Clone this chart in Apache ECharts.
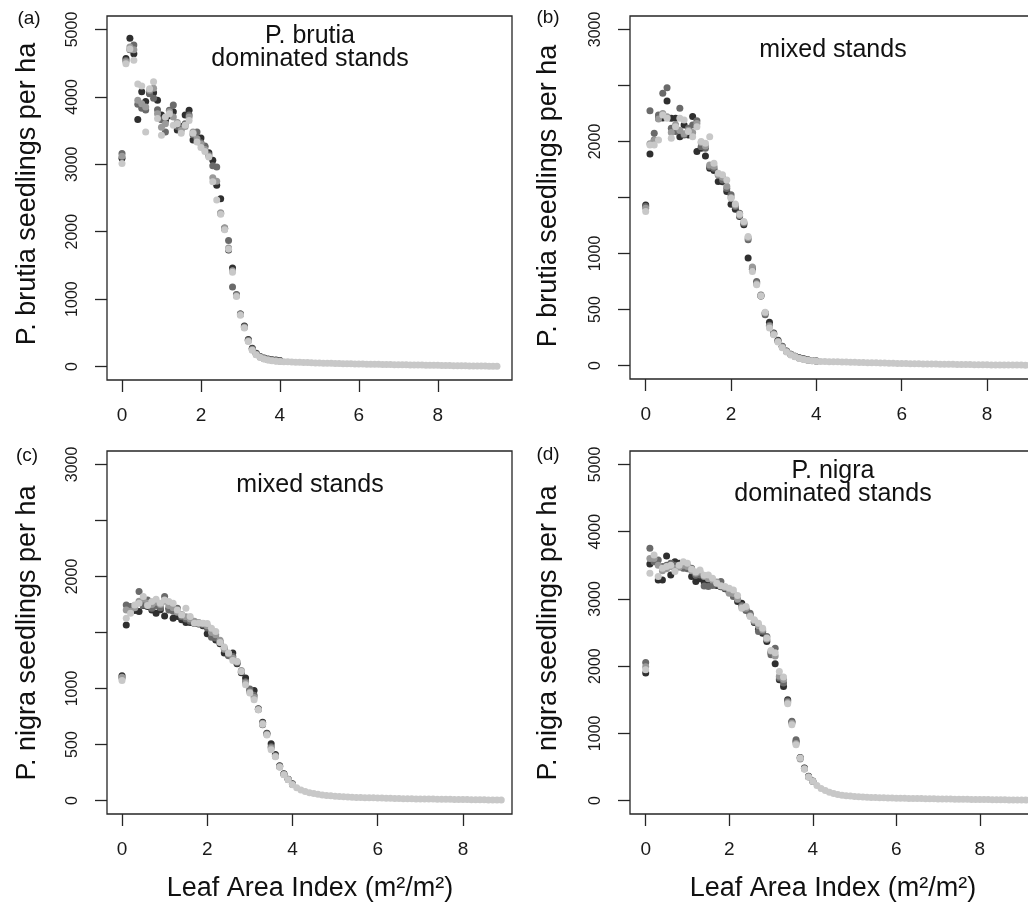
<!DOCTYPE html>
<html>
<head>
<meta charset="utf-8">
<script src="https://cdn.jsdelivr.net/npm/echarts@6/dist/echarts.min.js"></script>
<style>
html,body{margin:0;padding:0;background:#fff;}
#chart{width:1028px;height:908px;}
</style>
</head>
<body>
<div id="chart"></div>
<script>
// ---------- DATA ----------
const xMain = [0,0.1,0.2,0.3,0.4,0.5,0.6,0.7,0.8,0.9,1.0,1.1,1.2,1.3,1.4,1.5,1.6,1.7,1.8,1.9,2.0,2.1,2.2,2.3,2.4,2.5,2.6,2.7,2.8,2.9,3.0,3.1,3.2,3.3,3.4,3.5,3.6,3.7,3.8,3.9,4.0];
const xTail = [4.1,4.2,4.3,4.4,4.5,4.6,4.7,4.8,4.9,5.0,5.1,5.2,5.3,5.4,5.5,5.6,5.7,5.8,5.9,6.0,6.1,6.2,6.3,6.4,6.5,6.6,6.7,6.8,6.9,7.0,7.1,7.2,7.3,7.4,7.5,7.6,7.7,7.8,7.9,8.0,8.1,8.2,8.3,8.4,8.5,8.6,8.7,8.8,8.9,9.0,9.1,9.2,9.3,9.4,9.5];

// (a) P. brutia, P. brutia dominated stands
const a1 = [3090,4570,4870,4640,3665,4075,3930,4050,4060,3950,3730,3650,3720,3780,3510,3560,3730,3800,3360,3400,3390,3260,3170,3060,2690,2490,2050,1730,1460,1060,780,600,400,270,195,150,125,110,100,95,90];
const a2 = [3160,4540,4700,4770,3890,3830,3805,4045,3980,3810,3660,3480,3800,3880,3560,3530,3600,3730,3440,3480,3320,3270,3140,2980,2960,2270,2040,1870,1180,1070,780,590,390,260,190,145,120,105,95,90,85];
const a3 = [3120,4520,4740,4700,3950,3900,3850,4100,4130,3750,3550,3600,3780,3700,3620,3500,3560,3700,3480,3380,3300,3220,3120,2800,2750,2280,2060,1760,1420,1050,770,580,380,250,180,140,115,100,90,85,80];
const a4 = [3010,4490,4710,4545,4190,4160,3480,4120,4225,3680,3430,3700,3750,3580,3600,3460,3580,3650,3460,3330,3250,3190,3110,2740,2470,2260,2030,1740,1400,1040,760,570,370,240,175,135,110,95,85,80,75];
const aTail = [72,70,67,65,62,60,58,56,54,52,50,48,47,45,44,42,41,40,38,37,36,35,34,33,32,31,30,29,28,27,26,25,24,23,22,21,20,19,18,17,16,15,14,13,12,11,10,9,8,8,7,6,5,5,4];

// (b) P. brutia, mixed stands
const b1 = [1434,1889,2014,2207,2210,2361,2207,2207,2043,2147,2058,2222,1910,1940,1871,1760,1740,1642,1640,1553,1440,1396,1331,1256,959,860,740,620,470,386,290,226,172,130,102,84,70,60,52,46,41];
const b2 = [1420,2275,2073,2236,2430,2480,2118,2088,2296,2058,2118,2147,2186,1954,1940,1776,1761,1702,1657,1580,1524,1420,1360,1270,1123,870,751,630,454,360,280,220,168,128,100,82,68,58,50,45,40];
const b3 = [1405,1980,2010,2200,2250,2220,2080,2150,2100,2070,2100,2080,2160,1990,1960,1790,1780,1700,1680,1600,1500,1430,1340,1280,1140,880,730,620,470,350,285,215,165,125,98,80,66,56,48,43,39];
const b4 = [1375,1969,1969,2014,2236,2207,2029,2132,2207,2192,2088,2043,2132,1999,1984,2043,1806,1717,1702,1657,1494,1443,1350,1286,1152,840,722,624,475,336,276,210,160,120,95,78,64,54,47,42,38];
const bTail = [37,36,35,34,33,32,31,30,29,28,27,26,25,24,23,22,21,20,19,18,18,17,16,16,15,14,14,13,12,12,11,11,10,10,9,9,8,8,7,7,6,6,5,5,5,4,4,4,3,3,3,2];

// (c) P. nigra, mixed stands
const c1 = [1114,1568,1720,1696,1687,1740,1731,1700,1672,1702,1648,1717,1628,1642,1613,1589,1590,1580,1575,1560,1488,1470,1434,1400,1316,1300,1316,1220,1140,1093,980,983,820,698,600,508,410,310,240,190,150];
const c2 = [1093,1746,1731,1740,1865,1746,1791,1717,1740,1720,1821,1700,1690,1717,1640,1620,1600,1590,1580,1570,1540,1458,1450,1420,1360,1292,1286,1230,1150,1060,995,940,815,677,597,480,401,306,235,188,145];
const c3 = [1100,1700,1690,1720,1780,1800,1760,1750,1770,1750,1780,1740,1720,1680,1660,1640,1620,1600,1590,1580,1560,1500,1480,1430,1350,1310,1270,1240,1160,1050,970,920,810,690,590,470,395,300,232,187,143];
const c4 = [1072,1628,1672,1746,1761,1821,1740,1776,1797,1761,1790,1776,1761,1700,1657,1717,1642,1583,1583,1583,1580,1538,1509,1410,1370,1316,1250,1241,1152,1034,959,900,811,680,585,454,390,300,230,185,140];
const cTail = [115,95,80,70,62,56,50,46,42,39,36,34,32,30,28,27,26,25,24,23,22,21,20,19,18,17,17,16,15,15,14,13,13,12,12,11,11,10,10,9,9,8,8,7,7,6,6,5,5];

// (d) P. nigra, P. nigra dominated stands
const d1 = [1896,3520,3560,3282,3282,3639,3356,3554,3530,3480,3500,3332,3257,3300,3250,3250,3220,3200,3180,3150,3100,3050,2960,2936,2840,2760,2650,2550,2490,2366,2200,2035,1797,1698,1500,1170,880,640,485,360,290];
const d2 = [2054,3752,3554,3579,3480,3500,3530,3500,3490,3455,3450,3455,3350,3356,3193,3183,3200,3220,3257,3160,3120,3035,2990,2900,2827,2787,2660,2515,2520,2441,2168,2267,1822,1750,1480,1178,906,634,480,355,287];
const d3 = [1990,3600,3600,3500,3420,3450,3480,3450,3470,3500,3480,3420,3380,3400,3332,3300,3280,3250,3200,3170,3084,3080,3000,2880,2860,2750,2670,2600,2540,2400,2220,2150,1850,1800,1460,1150,850,620,470,350,285];
const d4 = [1946,3381,3653,3332,3455,3480,3500,3406,3500,3554,3530,3440,3400,3431,3350,3356,3307,3233,3190,3183,3158,3134,3050,2861,2886,2738,2688,2639,2564,2420,2233,2200,1921,1837,1440,1129,832,634,470,351,287];
const dTail = [223,180,150,125,105,90,80,72,66,61,57,53,50,47,45,43,41,39,37,35,34,33,32,31,30,29,28,27,26,25,24,23,22,21,20,19,18,17,16,15,15,14,13,12,12,11,10,10,9,8,8,7,6,6];

const xTickVals = [0,2,4,6,8];
const yTicks5000 = [0,1000,2000,3000,4000,5000];
const yLabels5000 = [0,1000,2000,3000,4000,5000];
const yTicks3000 = [0,500,1000,1500,2000,2500,3000];
const yLabels3000 = [0,500,1000,2000,3000];

const panelTags = ['(a)','(b)','(c)','(d)'];
const yTitles = ['P. brutia seedlings per ha','P. brutia seedlings per ha','P. nigra seedlings per ha','P. nigra seedlings per ha'];
const subTitles = [['P. brutia','dominated stands'],['mixed stands'],['mixed stands'],['P. nigra','dominated stands']];
const xTitle = 'Leaf Area Index (m²/m²)';

// ---------- LAYOUT ----------
const FONT = '"Liberation Sans", Arial, Helvetica, sans-serif';
const panels = [
  {grid:{left:107, top:16, width:405, height:364}, xr:[-0.38, 9.88], yr:[-200,5200], yt:yTicks5000, yl:yLabels5000, main:[a1,a2,a3,a4], tail:aTail},
  {grid:{left:630, top:16, width:424, height:363}, xr:[-0.368, 9.568], yr:[-120,3120], yt:yTicks3000, yl:yLabels3000, main:[b1,b2,b3,b4], tail:bTail},
  {grid:{left:107, top:451, width:405, height:363}, xr:[-0.352, 9.152], yr:[-120,3120], yt:yTicks3000, yl:yLabels3000, main:[c1,c2,c3,c4], tail:cTail},
  {grid:{left:630, top:451, width:424, height:363}, xr:[-0.376, 9.776], yr:[-200,5200], yt:yTicks5000, yl:yLabels5000, main:[d1,d2,d3,d4], tail:dTail}
];
const shades = ['#2f2f2f','#6a6a6a','#9a9a9a','#c8c8c8'];

const grids = [], xAxes = [], yAxes = [], series = [];
panels.forEach((p, i) => {
  grids.push(Object.assign({show:true, borderColor:'#262626', borderWidth:1.3, backgroundColor:'transparent', containLabel:false, outerBoundsMode:'none'}, p.grid));
  xAxes.push({
    type:'value', gridIndex:i, min:p.xr[0], max:p.xr[1], position:'bottom',
    axisLine:{show:false, onZero:false},
    splitLine:{show:false},
    axisTick:{show:true, inside:false, length:12, lineStyle:{color:'#262626', width:1.3}, customValues:xTickVals},
    axisLabel:{customValues:xTickVals, margin:26, fontSize:19, color:'#1a1a1a', fontFamily:FONT, formatter:v=>String(v)}
  });
  yAxes.push({
    type:'value', gridIndex:i, min:p.yr[0], max:p.yr[1], position:'left',
    axisLine:{show:false, onZero:false},
    splitLine:{show:false},
    axisTick:{show:true, inside:false, length:12, lineStyle:{color:'#262626', width:1.3}, customValues:p.yt},
    axisLabel:{customValues:p.yl, rotate:90, margin:26, fontSize:16, color:'#1a1a1a', fontFamily:FONT, formatter:v=>String(v)}
  });
  p.main.forEach((arr, k) => {
    series.push({
      type:'scatter', xAxisIndex:i, yAxisIndex:i, symbol:'circle', symbolSize:7,
      itemStyle:{color:shades[k], opacity:1}, silent:true, animation:false,
      data: arr.map((v, j) => [xMain[j], v])
    });
  });
  series.push({
    type:'scatter', xAxisIndex:i, yAxisIndex:i, symbol:'circle', symbolSize:7,
    itemStyle:{color:shades[3], opacity:1}, silent:true, animation:false,
    data: p.tail.map((v, j) => [xTail[j], v])
  });
});

function txt(x, y, text, size, rot) {
  return {type:'text', x:x, y:y, rotation:rot||0, silent:true,
    style:{text:text, fontSize:size, fontFamily:FONT, fill:'#111',
      align:'center', verticalAlign:'middle', textAlign:'center', textVerticalAlign:'middle'}};
}
const R = Math.PI/2;
const graphics = [
  txt(29, 19, panelTags[0], 19), txt(548, 18, panelTags[1], 19),
  txt(27, 456, panelTags[2], 19), txt(548, 455, panelTags[3], 19),
  txt(28, 194, yTitles[0], 27, R), txt(549, 196, yTitles[1], 27, R),
  txt(28, 633, yTitles[2], 27, R), txt(549, 633, yTitles[3], 27, R),
  txt(310, 36, subTitles[0][0], 25), txt(310, 59, subTitles[0][1], 25),
  txt(833, 50, subTitles[1][0], 25),
  txt(310, 485, subTitles[2][0], 25),
  txt(833, 471, subTitles[3][0], 25), txt(833, 494, subTitles[3][1], 25),
  txt(310, 889, xTitle, 27), txt(833, 889, xTitle, 27)
];

const chart = echarts.init(document.getElementById('chart'), null, {renderer:'canvas', width:1028, height:908});
chart.setOption({
  backgroundColor:'#ffffff',
  animation:false,
  grid:grids, xAxis:xAxes, yAxis:yAxes, series:series,
  graphic:{elements:graphics}
});
</script>
</body>
</html>
